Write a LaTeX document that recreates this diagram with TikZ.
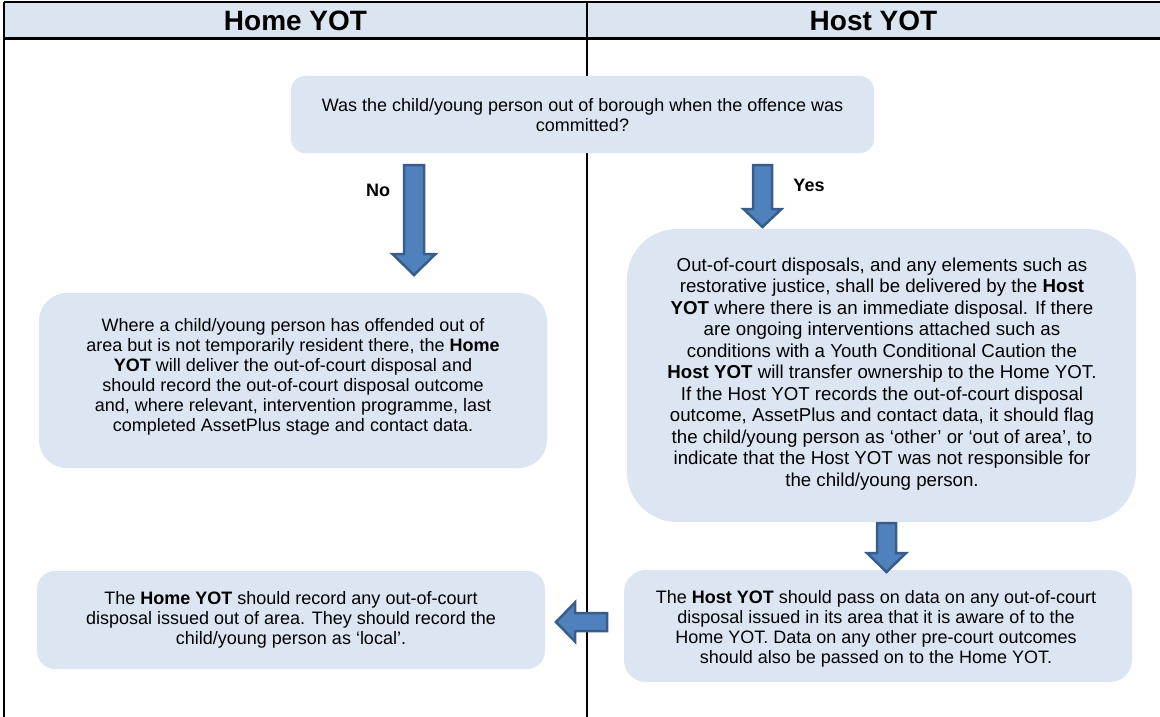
\documentclass[tikz,border=0pt]{standalone}
\usepackage{fontspec}
\setmainfont{Liberation Sans}
\usetikzlibrary{calc}
\definecolor{panelblue}{HTML}{DCE6F2}
\definecolor{headblue}{HTML}{DBE5F1}
\definecolor{arrowfill}{HTML}{4F81BD}
\definecolor{arrowedge}{HTML}{385D8A}
\tikzset{
  box/.style={fill=panelblue, inner sep=0pt},
  bodytext/.style={align=center, font=\fontsize{18}{20}\selectfont, inner sep=0pt},
  headtext/.style={font=\fontsize{28}{30}\selectfont\bfseries, inner sep=0pt},
  answer/.style={font=\fontsize{18}{20}\selectfont\bfseries, inner sep=0pt},
  blockarrow/.style={fill=arrowfill, draw=arrowedge, line width=2.5pt, line join=miter},
  rule/.style={line width=2.5pt, draw=black},
}
% block arrow from tail #1 to tip #2: shaft half-width #3, head half-width #4, head length #5
\newcommand\flowarrow[5]{%
  \coordinate (fa-base) at ($(#2)!#5!(#1)$);
  \draw[blockarrow]
    ($(#1)!#3!90:(#2)$) -- ($(fa-base)!#3!90:(#2)$) -- ($(fa-base)!#4!90:(#2)$)
    -- (#2) -- ($(fa-base)!#4!-90:(#2)$) -- ($(fa-base)!#3!-90:(#2)$)
    -- ($(#1)!#3!-90:(#2)$) -- cycle;
}
\begin{document}
\begin{tikzpicture}[x=1pt, y=1pt]
  \fill[white] (0,0) rectangle (1160,-717);
  \useasboundingbox (0,0) rectangle (1160,-717);

  % table frame and header row
  \fill[headblue] (4,-2) rectangle (1160,-39);
  \draw[rule] (4,-2) -- (1160,-2);
  \draw[rule, line width=3pt] (4,-39) -- (1160,-39);
  \draw[rule] (4,-2) -- (4,-717);
  \draw[rule] (587,-2) -- (587,-717);
  \node[headtext] (homehead) at (295.5,-20.5) {Home YOT};
  \node[headtext] (hosthead) at (873.5,-20.5) {Host YOT};

  % boxes
  \node[box, rounded corners=14pt, minimum width=583pt, minimum height=77pt] (q) at (582.5,-114.5) {};
  \node[bodytext] (qt) at (582.5,-115) {Was the child/young person out of borough when the offence was\\committed?};

  \node[box, rounded corners=28pt, minimum width=508pt, minimum height=175pt] (l1) at (293,-380.5) {};
  \node[bodytext] (l1t) at (293,-377) {Where a child/young person has offended out of\\
    area but is not temporarily resident there, the \textbf{Home}\\
    \textbf{YOT} will deliver the out-of-court disposal and\\
    should record the out-of-court disposal outcome\\
    and, where relevant, intervention programme, last\\
    completed AssetPlus stage and contact data.};

  \node[box, rounded corners=50pt, minimum width=509pt, minimum height=293pt] (r1) at (881.5,-375.5) {};
  \node[bodytext, font=\fontsize{18.7}{21.5}\selectfont] (r1t) at (882,-374) {Out-of-court disposals, and any elements such as\\
    restorative justice, shall be delivered by the \textbf{Host}\\
    \textbf{YOT} where there is an immediate disposal. If there\\
    are ongoing interventions attached such as\\
    conditions with a Youth Conditional Caution the\\
    \textbf{Host YOT} will transfer ownership to the Home YOT.\\
    If the Host YOT records the out-of-court disposal\\
    outcome, AssetPlus and contact data, it should flag\\
    the child/young person as ‘other’ or ‘out of area’, to\\
    indicate that the Host YOT was not responsible for\\
    the child/young person.};

  \node[box, rounded corners=18pt, minimum width=508pt, minimum height=98pt] (l2) at (291,-620) {};
  \node[bodytext] (l2t) at (291,-620) {The \textbf{Home YOT} should record any out-of-court\\
    disposal issued out of area. They should record the\\
    child/young person as ‘local’.};

  \node[box, rounded corners=22pt, minimum width=508pt, minimum height=112pt] (r2) at (878,-626) {};
  \node[bodytext] (r2t) at (876,-628.5) {The \textbf{Host YOT} should pass on data on any out-of-court\\
    disposal issued in its area that it is aware of to the\\
    Home YOT. Data on any other pre-court outcomes\\
    should also be passed on to the Home YOT.};

  % answer labels
  \node[answer] (no) at (378,-190) {No};
  \node[answer] (yes) at (809,-185) {Yes};

  % arrow end points
  \coordinate (noTail) at (414,-165);
  \coordinate (noTip) at (414,-275);
  \coordinate (yesTail) at (762.5,-165);
  \coordinate (yesTip) at (762.5,-227);
  \coordinate (passTail) at (886.5,-523);
  \coordinate (passTip) at (886.5,-572);
  \coordinate (backTail) at (607,-622);
  \coordinate (backTip) at (556,-622);

  \flowarrow{noTail}{noTip}{10pt}{21.5pt}{21pt}
  \flowarrow{yesTail}{yesTip}{9.5pt}{19pt}{18pt}
  \flowarrow{passTail}{passTip}{9.5pt}{19.5pt}{19pt}
  \flowarrow{backTail}{backTip}{9pt}{19.5pt}{19pt}
\end{tikzpicture}
\end{document}
